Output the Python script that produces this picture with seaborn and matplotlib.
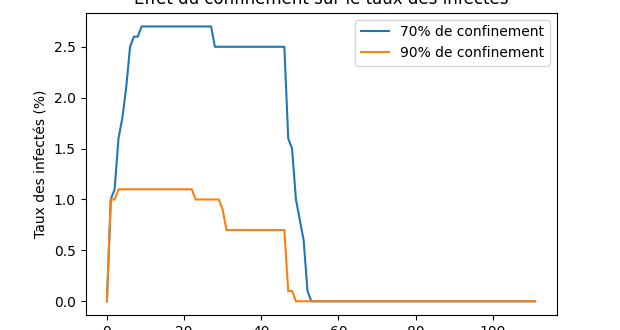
import matplotlib
matplotlib.use("Agg")
import matplotlib.pyplot as plt
import seaborn as sns
import numpy as np
import pandas as pd

days = list(range(112))

blue_head = [0, 1.0, 1.1, 1.6, 1.8, 2.1, 2.5, 2.6, 2.6] + [2.7] * 19 + [2.5] * 19 + \
            [1.6, 1.5, 1.0, 0.8, 0.6, 0.1, 0.0]
conf70 = blue_head + [0.0] * (112 - len(blue_head))

orange_head = [0, 1.0, 1.0] + [1.1] * 20 + [1.0] * 7 + [0.9] + [0.7] * 16 + [0.1, 0.1, 0.0]
conf90 = orange_head + [0.0] * (112 - len(orange_head))

labels = ["70% de confinement", "90% de confinement"]
title = "Effet du confinement sur le taux des infectés"
ylabel = "Taux des infectés (%)"

fig = plt.figure(figsize=(6.2, 3.3), dpi=100)
ax = fig.add_axes([85.5 / 620, 15 / 330, (556.5 - 85.5) / 620, (315 - 12.7) / 330])

sns.lineplot(x=days, y=conf70, ax=ax, label=labels[0], color="#1f77b4", linewidth=1.5)
sns.lineplot(x=days, y=conf90, ax=ax, label=labels[1], color="#ff7f0e", linewidth=1.5)

ax.set_title(title)
ax.set_ylabel(ylabel)
ax.set_xticks([0, 20, 40, 60, 80, 100])
ax.set_yticks([0.0, 0.5, 1.0, 1.5, 2.0, 2.5])
ax.legend(loc="upper right")

fig.savefig("out.png", dpi=100)
